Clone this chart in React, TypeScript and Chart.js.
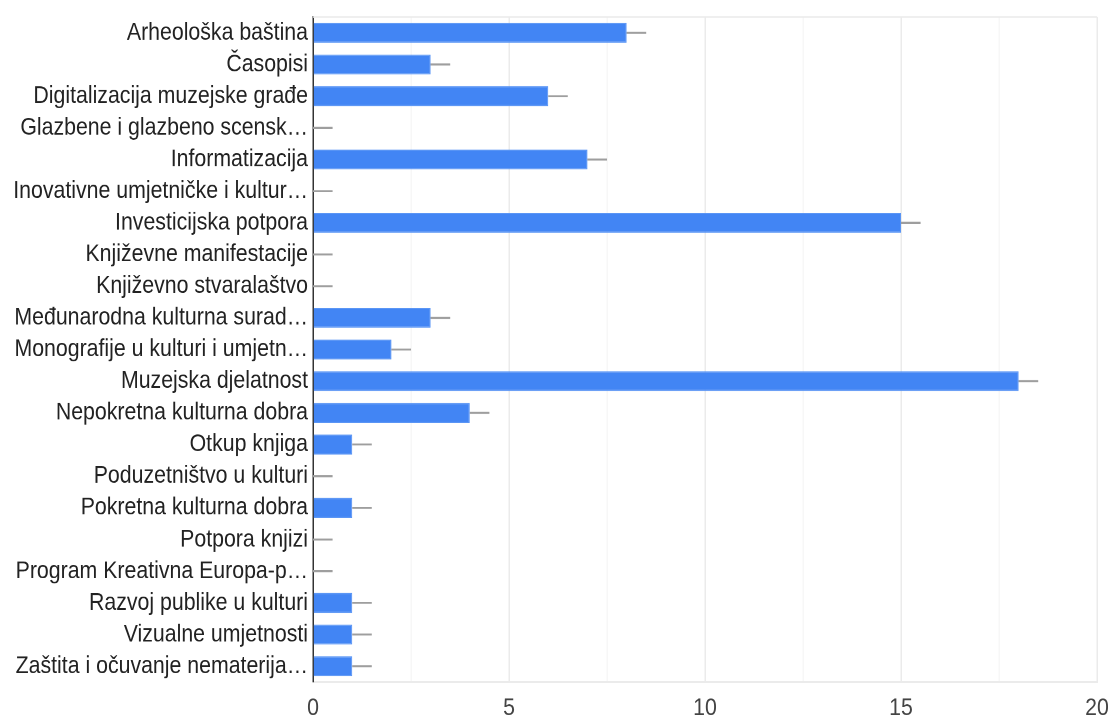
import React, { useEffect, useRef } from "react";
import { Chart, registerables } from "chart.js";

Chart.register(...registerables);

const categories = [
  "Arheološka baština",
  "Časopisi",
  "Digitalizacija muzejske građe",
  "Glazbene i glazbeno scensk…",
  "Informatizacija",
  "Inovativne umjetničke i kultur…",
  "Investicijska potpora",
  "Književne manifestacije",
  "Književno stvaralaštvo",
  "Međunarodna kulturna surad…",
  "Monografije u kulturi i umjetn…",
  "Muzejska djelatnost",
  "Nepokretna kulturna dobra",
  "Otkup knjiga",
  "Poduzetništvo u kulturi",
  "Pokretna kulturna dobra",
  "Potpora knjizi",
  "Program Kreativna Europa-p…",
  "Razvoj publike u kulturi",
  "Vizualne umjetnosti",
  "Zaštita i očuvanje nematerija…",
];

const counts = [8, 3, 6, 0, 7, 0, 15, 0, 0, 3, 2, 18, 4, 1, 0, 1, 0, 0, 1, 1, 1];

const errorMargins = [
  0.5, 0.5, 0.5, 0.5, 0.5, 0.5, 0.5, 0.5, 0.5, 0.5, 0.5, 0.5, 0.5, 0.5, 0.5, 0.5, 0.5, 0.5, 0.5, 0.5, 0.5,
];

const xTickLabels = [0, 5, 10, 15, 20];

const FONT = "'Liberation Sans', Arial, sans-serif";
const W = 1112;
const H = 718;
const INNER_H = 624; // drawn at this height, then stretched vertically to H
const SY = H / INNER_H;

const errorBarPlugin = {
  id: "errorBars",
  afterDatasetsDraw(chart: any) {
    const meta = chart.getDatasetMeta(0);
    const xs = chart.scales.x;
    const ctx = chart.ctx;
    ctx.save();
    ctx.strokeStyle = "#9e9e9e";
    ctx.lineWidth = 2 / SY;
    meta.data.forEach((bar: any, i: number) => {
      const v = counts[i];
      const x0 = xs.getPixelForValue(v);
      const x1 = xs.getPixelForValue(v + errorMargins[i]);
      ctx.beginPath();
      ctx.moveTo(x0, bar.y);
      ctx.lineTo(x1, bar.y);
      ctx.stroke();
    });
    ctx.restore();
  },
  beforeDatasetsDraw(chart: any) {
    const { ctx, chartArea } = chart;
    ctx.save();
    ctx.strokeStyle = "#ebebeb";
    ctx.lineWidth = 1.5 / SY;
    ctx.beginPath();
    ctx.moveTo(chartArea.left, chartArea.top);
    ctx.lineTo(chartArea.right, chartArea.top);
    ctx.stroke();
    ctx.restore();
  },
};

export default function App() {
  const ref = useRef<HTMLCanvasElement>(null);

  useEffect(() => {
    document.body.style.margin = "0";
    const chart = new Chart(ref.current as HTMLCanvasElement, {
      type: "bar",
      data: {
        labels: categories,
        datasets: [
          {
            data: counts,
            backgroundColor: "#4285F4",
            borderColor: "#5a95f5",
            borderWidth: 1,
            categoryPercentage: 0.63,
            barPercentage: 1,
          },
        ],
      },
      options: {
        indexAxis: "y",
        animation: false,
        responsive: false,
        devicePixelRatio: 2,
        layout: { padding: { top: 17 / SY, right: 15, left: 0, bottom: 0 } },
        plugins: { legend: { display: false }, tooltip: { enabled: false } },
        scales: {
          x: {
            min: 0,
            max: 20,
            afterFit: (s: any) => {
              s.height = 36 / SY;
              s.paddingLeft = 0;
              s.paddingRight = 0;
            },
            afterBuildTicks: (s: any) => {
              const t: any[] = [];
              for (let v = 0; v <= 20; v += 2.5) t.push({ value: v });
              s.ticks = t;
            },
            ticks: {
              padding: 10,
              color: "#444",
              font: { family: FONT, size: 21.3 },
              callback: (v: any) => (xTickLabels.includes(Number(v)) ? String(v) : ""),
              autoSkip: false,
              maxRotation: 0,
            },
            grid: {
              drawTicks: false,
              lineWidth: 1.5,
              color: (c: any) => {
                const v = c.tick ? c.tick.value : 0;
                if (v === 0) return "rgba(0,0,0,0)";
                return v % 5 === 0 ? "#ebebeb" : "#f7f7f7";
              },
            },
            border: { color: "#ebebeb", width: 1.5 },
          },
          y: {
            afterFit: (s: any) => {
              s.width = 313;
              s.paddingTop = 0;
              s.paddingBottom = 0;
            },
            ticks: {
              padding: 5,
              color: "#222",
              font: { family: FONT, size: 21.3 },
              autoSkip: false,
            },
            grid: { display: false, drawTicks: false },
            border: { color: "#333", width: 1.5 },
          },
        },
      },
      plugins: [errorBarPlugin],
    } as any);
    return () => chart.destroy();
  }, []);

  return (
    <div style={{ width: W, height: H, background: "#fff", overflow: "hidden" }}>
      <div style={{ width: W, height: INNER_H, transform: `scaleY(${SY})`, transformOrigin: "0 0" }}>
        <canvas ref={ref} width={W} height={INNER_H} style={{ width: W, height: INNER_H, display: "block" }} />
      </div>
    </div>
  );
}
